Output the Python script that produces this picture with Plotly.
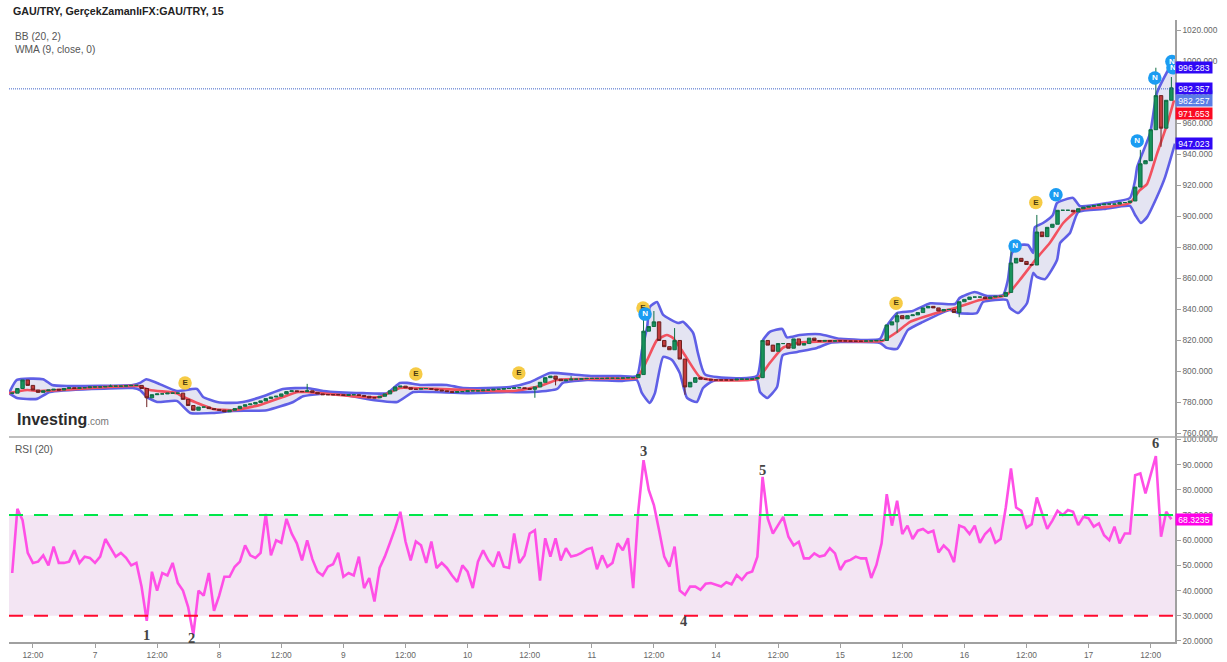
import plotly.graph_objects as go

# time unit: hours since 00:00 of the day before "7" (weekend removed)
tick_vals = [12, 24, 36, 48, 60, 72, 84, 96, 108, 120, 132, 144, 156, 168, 180, 192, 204, 216, 228]
tick_text = ["12:00", "7", "12:00", "8", "12:00", "9", "12:00", "10", "12:00", "11", "12:00", "14",
             "12:00", "15", "12:00", "16", "12:00", "17", "12:00"]

close = [
 786,789,794.5,791,788,786.5,787.5,788,788.5,788,789,789.5,789,789.5,789.5,790,790,
 790,790.3,790.5,790.5,790.5,790.8,791,791,789,783,785,785.5,785.5,786,786,786,782,778,775,777,777,776,775.5,775,
 774,775,776,777.5,778.5,779,780,781,782.5,783.5,784,785.5,787,787.5,787,787,787.5,786.5,785.5,785,785,785,785,784.5,
 785,785,784.5,784,783,783,784,785.5,787.5,790,790.5,789.5,788.5,788.5,789,789,788.5,788,787.5,787,786.5,787,787,787.5,
 787.5,787.5,788,788,788.5,788.5,789,789,789.5,789.5,789,788.5,790,793,796,797,795,794,794.5,795,795,795.3,795.5,795.5,
 795.5,795.5,795.6,795.6,795.6,795.8,796,796,798,826,829,832,820,816,814,820,808,790,793,796,795,795,794.5,794.5,
 794.5,794.5,794.5,795,795,795,795.2,796,820,817,813,818,818,815,821,817,818,821.5,820,819.5,820,819.5,819.8,819.7,
 819.7,819.5,819.5,819.5,819.7,819.7,820,820,830,832,836,834,836,836.5,838,841,842,841,839,840,840,838,845,846.5,
 848,848,848,847,848,848.5,848.5,851,870,873,871,869,868.7,890,887,893,895,904,904,904,903,905,906,906.5,
 907,907.5,908,908,908,909,909,910,919,934,936,956,978,957,975,983]
wick_high = {19: 791.5, 57: 792, 122: 838, 124: 839, 128: 828, 171: 838, 193: 879, 198: 901, 218: 943, 221: 996, 224: 990, 108: 797, 103: 794}
wick_low = {26: 777, 101: 783, 130: 785, 171: 825, 222: 945, 105: 791, 183: 835}

bb_upper_t = [7.4,8.9,13.95,15.7,18.6,31.3,32.7,33.9,36,39.8,43.7,44.9,47.6,50.1,52.6,56.5,60.3,65,68.1,75.8,80.4,82.9,84.3,86.8,92,95.1,
 104.2,108,111.9,116.4,120.2,125.5,128.7,129.7,130.7,131.2,132.6,133.8,136.7,137.6,139.6,140.5,141.9,151.9,153.1,154.4,156.8,157.7,160.2,164.1,168,
 175.7,176.7,179,182,185.4,190.2,191.1,194,196.4,199.5,200.4,201.2,202.7,204.3,205.3,205.6,207.2,209.1,209.9,213,214.3,219.6,224,225,225.4,227.9,229.2,231.7,232.7]
bb_upper = [786,794.5,795,791.3,790.6,791.3,792.6,795,792.6,787.4,788.7,783.5,780.3,779.7,780.3,784,788.7,789.3,787.4,786,786,792.6,792.6,791.3,791.3,789.3,
 790,793,799,798,797,797,797,813.9,828.7,841.6,844.8,836.5,831.3,832,824.8,812,798,797,820.3,825.5,827.4,822,823.5,824,821,
 821,828,837.7,839,844,843.5,847.5,851.3,848.7,849.4,859,876.5,881.6,881.6,876.5,893,895.8,901,908.7,912,906.8,908.7,912,923.5,932,953.9,979.7,996.5,1001]

bb_lower_t = [7.4,8.9,12.8,15.3,31.3,32.7,34,36,39.8,42.4,46.8,50.7,57.2,62.3,64.2,70,77.7,82.4,85.5,89.3,95.9,103.6,108.6,113.3,114.4,119.1,125.5,128.7,
 129.7,131.2,132.2,133.8,135.5,137,138.4,140.3,141.5,143.4,151.9,152.5,153.9,155.8,156.9,159.7,163.5,166,168,
 175.7,177,179,181.1,184,189.2,190.8,194.4,195.6,200.2,200.8,202.4,204.1,205.3,206,207.6,209.9,210.5,212.4,214,218.8,224,225,226.1,227.3,229.2,230.8,232.7]
bb_lower = [786,782.9,782.3,786.7,789.3,788,783.5,780.3,781,773.2,773.2,774.5,775,780.3,784,786,781.6,780.3,786.7,786.7,786,786.7,786.7,788.7,792.6,794.5,793.9,794.5,
 786,779.7,786,809.4,807.4,799,782.9,780.3,789.3,793.9,794.5,786.7,782.9,790,810.6,812.6,815.2,818.4,819,
 818.4,815.2,814.6,826.8,832,839.7,837.7,837.7,844.8,846.1,841,837.7,844,863.6,861,859.6,871.9,882.9,889.3,902.9,904.8,906.8,901,895.8,899.6,912.6,925.6,947]

wma_t = [7.4,9.5,10.9,13.4,32.3,34.6,39.8,40.8,43.7,46.8,50.7,55.9,60.3,63.2,65,75.8,79,82.9,85.5,104.8,110,113.3,124.1,128.7,130.7,132.6,134.5,135.7,137.6,140.9,143.4,151.9,
 154.4,156.9,159.7,168,176.1,179,181.5,187.3,190.2,195,200.2,202.7,206,208.5,211.1,214,219.6,224,225.9,227.3,229.2,231.2,232.5]
wma = [786,787.4,788,787.4,790.6,788,786,784,779.7,775.8,775,778.4,783.5,786.7,786.7,783.5,783.5,789.3,789.3,787.4,790.6,794.5,795.5,795.8,807.4,820.3,823.5,821.6,812.6,796.3,794.5,795.2,
 805.5,815.2,818.4,819.7,819.7,825.5,832,838.4,841,846.1,849.4,859,873.2,882.9,895.8,904.2,906.2,908.7,917,921,940.3,959.7,975]

rsi = [
 47,72.5,68,55,51,51.5,54,50,57.5,51,
 51,51.5,56,51,53.5,53,51,53.5,60.5,57,
 53.5,55,53,50,51,41.5,28,47.5,40,47,
 46,51,43,40,33.5,22.5,40,38,47,32,
 38,45.5,45.5,49.5,51.5,58,54,53,55,70.5,
 54,60,59,68.5,62.7,58.8,52,60,52.5,47.5,
 46,49.5,50.5,55,45.5,47,46,53.5,41,45,
 35.7,49,53.5,59,64.7,71.3,59.5,52,59.5,58,
 51,59.5,49,51,49,46,43.5,50,47.5,41,
 51.5,56,52,49.5,55.5,49.5,49,62.7,51,54,
 62.7,64,44,60.8,53.5,60.8,52,56.8,53.5,54,
 55,56.4,57,48.5,54,49.5,51,58.8,56,60.8,
 41,72,91.8,80,74,64,53.5,49.5,57.5,40,
 38.3,41.6,41.6,40.3,42.7,43,42.3,41.6,43.3,42.5,
 46.2,44.3,46.9,47.6,53.5,85.2,68.7,62.7,66,69.3,
 61.4,58,59.4,52.8,52.8,54.8,53.5,54,56.8,54.8,
 48.2,51.5,52.2,53.5,52.8,52.8,45,50.2,58.8,78.3,
 65.8,75.7,62.5,65.8,60.5,63.8,64.5,63,63.8,55.2,
 57.9,55.9,51.3,65.8,65,62.5,65.8,59,62.5,64.5,
 59,60.5,73,88.5,73,71.7,65,66.4,77,70.4,
 64.5,67.8,71.7,70,72,71.3,66,69.3,68.7,65.4,
 66.7,62,60,65.4,58.8,62.7,62.7,85.8,86.5,78.6,
 85.8,93.4,61.4,71.3,68.3]

earn_t = [41.4, 86, 105.9, 129.9, 178.8, 205.8]
earn_v = [792.6, 798.4, 799, 841, 844, 909]
news_t = [130.3, 201.8, 209.7, 225.4, 228.8, 232.3, 232.1]
news_v = [837, 881, 914, 948.7, 989.4, 996, 1000]

price_tags = [("996.283", 996.283, "#3008f5", 0), ("982.357", 982.357, "#3008f5", 0),
              ("982.257", 982.257, "#5a7de6", -11), ("971.653", 971.653, "#fb0a22", -7.6),
              ("947.023", 947.023, "#3008f5", 0)]
rsi_labels = [("1", 22.2, 146), ("2", 21.2, 191), ("3", 95.6, 643), ("4", 28.0, 683), ("5", 87.8, 762), ("6", 98.8, 1155)]

hours = [8 + i for i in range(len(close))]
opens = [close[0]] + close[:-1]
highs = [max(wick_high.get(i, 0), opens[i], close[i]) for i in range(len(close))]
lows = [min(wick_low.get(i, 1e9), opens[i], close[i]) for i in range(len(close))]

BAND, WMA, RSI = "#5f5fe6", "#f2515f", "#ff4fe6"
FONT = "Liberation Sans"
TICK = dict(family=FONT, size=8.4, color="#666666")
PRICE_RANGE = [757.7, 1026.8]

fig = go.Figure()
fig.add_trace(go.Scatter(x=bb_upper_t, y=bb_upper, mode="lines", line=dict(color=BAND, width=2.6, shape="spline", smoothing=0.5), hoverinfo="skip"))
fig.add_trace(go.Scatter(x=bb_lower_t, y=bb_lower, mode="lines", line=dict(color=BAND, width=2.6, shape="spline", smoothing=0.5),
                         fill="tonexty", fillcolor="#e4e4f2", hoverinfo="skip"))
fig.add_trace(go.Scatter(x=wma_t, y=wma, mode="lines", line=dict(color=WMA, width=2.6, shape="spline", smoothing=0.5), hoverinfo="skip"))
# candles and event badges live on an overlaid axis so they draw above the band fill
fig.add_trace(go.Candlestick(x=hours, open=opens, high=highs, low=lows, close=close, whiskerwidth=0, yaxis="y3",
                             increasing=dict(line=dict(color="#0f6e45", width=1), fillcolor="#17935c"),
                             decreasing=dict(line=dict(color="#6e2020", width=1), fillcolor="#c23a3a"),
                             hoverinfo="skip"))
fig.add_trace(go.Scatter(x=earn_t, y=earn_v, yaxis="y3", mode="markers+text", text=["<b>E</b>"] * len(earn_t), textposition="middle center",
                         marker=dict(size=13.5, color="#f6cb45"), textfont=dict(family=FONT, size=8, color="#4a3a10"), hoverinfo="skip"))
fig.add_trace(go.Scatter(x=news_t, y=news_v, yaxis="y3", mode="markers+text", text=["<b>N</b>"] * len(news_t), textposition="middle center",
                         marker=dict(size=13.5, color="#1b9cf2"), textfont=dict(family=FONT, size=8, color="#ffffff"), hoverinfo="skip"))
fig.add_trace(go.Scatter(x=hours, y=rsi, yaxis="y2", mode="lines", line=dict(color=RSI, width=2.6), hoverinfo="skip"))

W, H, L, R, T, B = 1227, 662, 9, 1175, 20, 642
split = (B - 437) / (B - T)
def px(x): return (x - L) / (R - L)
def py(y): return (B - y) / (B - T)

def note(x, y, text, **kw):
    a = dict(xref="paper", yref="paper", x=px(x), y=py(y), text=text, showarrow=False, xanchor="left", yanchor="middle",
             font=dict(family=FONT, size=10.2, color="#555555"))
    a.update(kw)
    return a

ann = [
    note(11, 11.5, "<b>GAU/TRY, GerçekZamanlıFX:GAU/TRY, 15</b>", font=dict(family=FONT, size=10.7, color="#222222")),
    note(13, 37, "BB (20, 2)"),
    note(13, 49.5, "WMA (9, close, 0)"),
    note(13, 449.5, "RSI (20)"),
    note(15, 419.5, "<b>Investing</b><span style='font-size:10px;color:#777777'>.com</span>",
         font=dict(family=FONT, size=16, color="#2b2b2b")),
]
for txt, val, col, shift in price_tags:
    ann.append(dict(xref="paper", yref="y", x=1.0, y=val, yshift=shift, text=txt, showarrow=False, xanchor="left", yanchor="middle",
                    bgcolor=col, width=36, height=11, borderpad=0, align="center",
                    font=dict(family=FONT, size=8.6, color="white")))
ann.append(dict(xref="paper", yref="y2", x=1.0, y=68.3235, text="68.3235", showarrow=False, xanchor="left", yanchor="middle",
                bgcolor="#ff00e8", width=36, height=11, borderpad=0, align="center",
                font=dict(family=FONT, size=8.6, color="white")))
for txt, val, x in rsi_labels:
    ann.append(dict(xref="paper", yref="y2", x=px(x), y=val, text="<b>%s</b>" % txt, showarrow=False, xanchor="center", yanchor="middle",
                    font=dict(family="Liberation Serif", size=14.5, color="#444444")))

shapes = [
    dict(type="rect", xref="paper", yref="y2", x0=0, x1=1, y0=30, y1=70, fillcolor="#f3e5f3", line=dict(width=0), layer="below"),
    dict(type="line", xref="paper", yref="y2", x0=0, x1=1, y0=70, y1=70, line=dict(color="#00e64a", width=2, dash="14px,11px")),
    dict(type="line", xref="paper", yref="y2", x0=0, x1=1, y0=30, y1=30, line=dict(color="#ff0a2e", width=2, dash="14px,11px")),
    dict(type="line", xref="paper", yref="y", x0=0, x1=1, y0=982.357, y1=982.357, line=dict(color="#3d63c8", width=1, dash="1px,1px")),
    dict(type="line", xref="paper", yref="paper", x0=0, x1=px(1218), y0=py(437), y1=py(437), line=dict(color="#a8a8a8", width=1.5)),
]

axis_y = dict(side="right", showgrid=False, zeroline=False, showline=True, linecolor="#a0a0a0", linewidth=1.5, ticks="outside",
              ticklen=4, tickcolor="#a0a0a0", tickfont=TICK, anchor="x", automargin=False)
fig.update_layout(
    width=W, height=H, autosize=False, margin=dict(l=L, r=W - R, t=T, b=H - B, pad=0),
    paper_bgcolor="white", plot_bgcolor="white", showlegend=False, annotations=ann, shapes=shapes, boxgap=0.05,
    xaxis=dict(range=[7.38, 232.7], rangeslider=dict(visible=False), tickmode="array", tickvals=tick_vals, ticktext=tick_text,
               showgrid=False, zeroline=False, showline=True, linecolor="#a0a0a0", linewidth=1.5, ticks="outside", ticklen=4,
               tickcolor="#a0a0a0", tickfont=TICK, anchor="y2", automargin=False),
    yaxis=dict(domain=[split, 1], range=PRICE_RANGE, tickmode="array", tickvals=list(range(760, 1021, 20)),
               ticktext=["%d.000" % v for v in range(760, 1021, 20)], **axis_y),
    yaxis2=dict(domain=[0, split], range=[19.6, 101], tickmode="array", tickvals=list(range(20, 101, 10)),
                ticktext=["%d.0000" % v for v in range(20, 101, 10)], **axis_y),
    yaxis3=dict(overlaying="y", range=PRICE_RANGE, side="right", visible=False, showgrid=False, zeroline=False, automargin=False),
)
fig.write_html("out.html", config=dict(displayModeBar=False), post_script="document.body.style.margin='0';")
